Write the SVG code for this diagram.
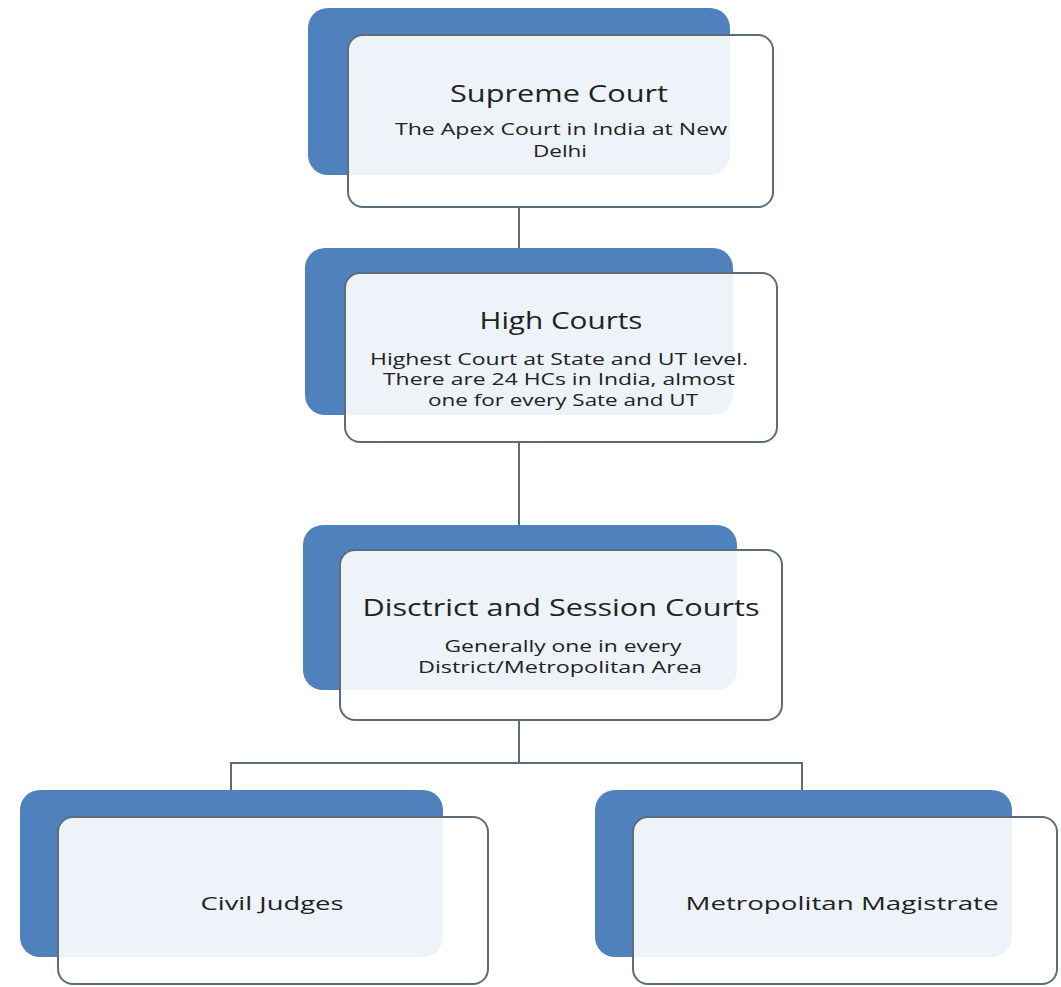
<svg xmlns="http://www.w3.org/2000/svg" width="1061" height="987" viewBox="0 0 1061 987">
<style>
.back{fill:#4f81bd;}
.front{fill:#ffffff;fill-opacity:0.9;stroke:#5d6b7a;stroke-width:2;}
.conn{stroke:#5d6b7a;stroke-width:2;fill:none;}
text{font-family:"Open Sans",Lato,"Liberation Sans",sans-serif;fill:#222;text-anchor:middle;}
.t{font-size:24px;}
.s{font-size:16px;}
.b{font-size:19px;}
</style>
<rect width="1061" height="987" fill="#ffffff"/>
<g id="connectors">
<line class="conn" x1="519" y1="207" x2="519" y2="250"/>
<line class="conn" x1="519" y1="442" x2="519" y2="527"/>
<polyline class="conn" points="519,720 519,763"/>
<polyline class="conn" points="231,792 231,763 802,763 802,792"/>
</g>
<g id="supreme">
<rect class="back" x="308" y="8" width="422" height="167" rx="20"/>
<rect class="front" x="348" y="35" width="425" height="172" rx="15"/>
<text class="t" x="559" y="102" textLength="218" lengthAdjust="spacingAndGlyphs">Supreme Court</text>
<text class="s" x="561" y="135" textLength="332" lengthAdjust="spacingAndGlyphs">The Apex Court in India at New</text>
<text class="s" x="560" y="157" textLength="54" lengthAdjust="spacingAndGlyphs">Delhi</text>
</g>
<g id="high">
<rect class="back" x="305" y="248" width="428" height="167" rx="20"/>
<rect class="front" x="345" y="273" width="432" height="169" rx="15"/>
<text class="t" x="561" y="329" textLength="163" lengthAdjust="spacingAndGlyphs">High Courts</text>
<text class="s" x="559" y="365" textLength="378" lengthAdjust="spacingAndGlyphs">Highest Court at State and UT level.</text>
<text class="s" x="559" y="385" textLength="352" lengthAdjust="spacingAndGlyphs">There are 24 HCs in India, almost</text>
<text class="s" x="563" y="406" textLength="270" lengthAdjust="spacingAndGlyphs">one for every Sate and UT</text>
</g>
<g id="district">
<rect class="back" x="303" y="525" width="434" height="165" rx="20"/>
<rect class="front" x="340" y="550" width="442" height="170" rx="15"/>
<text class="t" x="561" y="616" textLength="397" lengthAdjust="spacingAndGlyphs">Disctrict and Session Courts</text>
<text class="s" x="563" y="652" textLength="237" lengthAdjust="spacingAndGlyphs">Generally one in every</text>
<text class="s" x="560" y="673" textLength="284" lengthAdjust="spacingAndGlyphs">District/Metropolitan Area</text>
</g>
<g id="civil">
<rect class="back" x="20" y="790" width="423" height="167" rx="20"/>
<rect class="front" x="58" y="817" width="430" height="167" rx="15"/>
<text class="b" x="272" y="910" textLength="143" lengthAdjust="spacingAndGlyphs">Civil Judges</text>
</g>
<g id="metro">
<rect class="back" x="595" y="790" width="417" height="167" rx="20"/>
<rect class="front" x="633" y="817" width="424" height="167" rx="15"/>
<text class="b" x="842" y="910" textLength="313" lengthAdjust="spacingAndGlyphs">Metropolitan Magistrate</text>
</g>
</svg>
